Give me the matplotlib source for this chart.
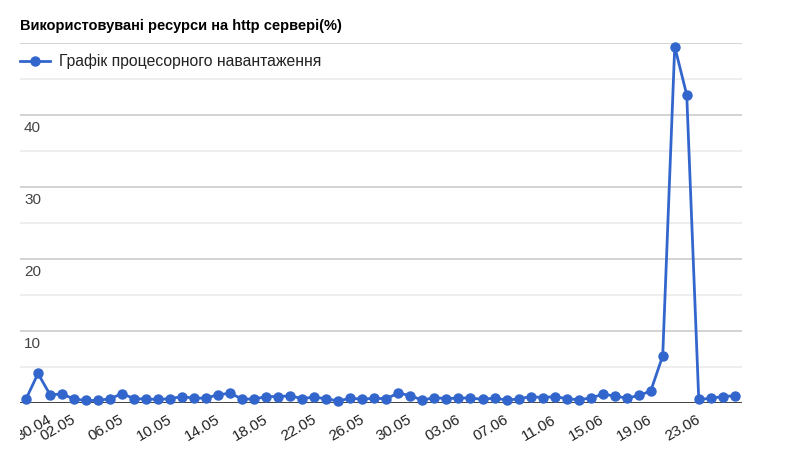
import matplotlib.pyplot as plt
import matplotlib.transforms as mtransforms
import datetime as dt

plt.rcParams['font.family'] = ['Liberation Sans', 'DejaVu Sans']

start = dt.date(2015, 4, 30)
cpu = [0.55, 4.1, 1.15, 1.25, 0.55, 0.35, 0.35, 0.6, 1.3, 0.6,
       0.55, 0.5, 0.6, 0.9, 0.65, 0.7, 1.15, 1.35, 0.55, 0.55,
       0.9, 0.9, 1.0, 0.6, 0.85, 0.55, 0.3, 0.65, 0.55, 0.65,
       0.6, 1.4, 1.0, 0.4, 0.75, 0.6, 0.7, 0.7, 0.5, 0.7,
       0.4, 0.55, 0.9, 0.75, 0.9, 0.6, 0.45, 0.7, 1.2, 1.0,
       0.65, 1.05, 1.65, 6.55, 49.5, 42.8, 0.5, 0.65, 0.9, 1.0]
dates = [(start + dt.timedelta(days=i)).strftime('%d.%m') for i in range(len(cpu))]
x = list(range(len(cpu)))
tick_idx = [0] + list(range(2, len(cpu) - 3, 4))

fig = plt.figure(figsize=(7.92, 4.66), dpi=100)
ax = fig.add_axes([20 / 792, 1 - 403 / 466, 722 / 792, 360 / 466])

ax.set_ylim(0, 50)
ax.set_xlim(-0.5, 59.6)
for v in range(5, 51, 5):
    ax.axhline(v, color='#cccccc' if v % 10 == 0 else '#ebebeb', lw=1.2, zorder=0)
ax.axhline(0, color='#333333', lw=1.3, zorder=3)

ax.plot(x, cpu, '-o', color='#3366cc', lw=2, ms=6.5, zorder=4, clip_on=False)

for s in ax.spines.values():
    s.set_visible(False)
ax.set_yticks([])
for v in (10, 20, 30, 40):
    ax.text(4 / 722, v - 0.8, str(v), transform=ax.get_yaxis_transform(),
            ha='left', va='top', fontsize=11, color='#444444')

ax.set_xticks([x[i] for i in tick_idx])
ax.set_xticklabels([dates[i] for i in tick_idx], rotation=30, ha='center',
                   fontsize=11, color='#222222')
ax.tick_params(axis='x', length=0, pad=7)
shift = mtransforms.ScaledTranslation(8 / 100, 0, fig.dpi_scale_trans)
clip = mtransforms.Bbox.from_extents(20, 0, 792, 466)
for lbl in ax.get_xticklabels():
    lbl.set_transform(lbl.get_transform() + shift)
    lbl.set_clip_box(clip)
    lbl.set_clip_on(True)

fig.text(20 / 792, 1 - 26 / 466, 'Використовувані ресурси на http сервері(%)',
         fontsize=10.5, fontweight='bold', color='#000000', va='center')
fig.lines.append(plt.Line2D([20 / 792, 35 / 792, 50 / 792], [1 - 61 / 466] * 3,
                            transform=fig.transFigure, color='#3366cc', lw=2,
                            marker='o', markevery=[1], ms=6.5))
fig.text(59 / 792, 1 - 61 / 466, 'Графік процесорного навантаження',
         fontsize=11.3, color='#222222', va='center')

fig.savefig('out.png', dpi=100)
